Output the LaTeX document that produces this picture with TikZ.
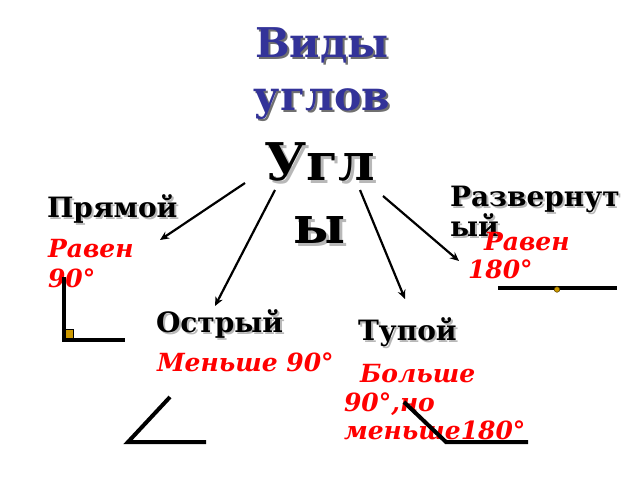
\documentclass[tikz,border=0pt]{standalone}
\usepackage{fontspec}
\setmainfont{DejaVu Serif}
\usetikzlibrary{arrows.meta}
\definecolor{titleblue}{HTML}{333399}
\definecolor{shadowgray}{HTML}{B8B8B8}
\definecolor{titleshadowgray}{HTML}{707070}
\definecolor{gold}{HTML}{CC9900}
\definecolor{angred}{HTML}{FF0000}
\tikzset{
  txt/.style={inner sep=0pt, outer sep=0pt},
  title/.style={txt, anchor=base, font=\bfseries\fontsize{41}{41}\selectfont, text=titleblue},
  titleshadow/.style={txt, anchor=base, font=\bfseries\fontsize{41}{41}\selectfont, text=titleshadowgray},
  big/.style={txt, anchor=base, font=\bfseries\fontsize{52}{52}\selectfont, text=black},
  bigshadow/.style={txt, anchor=base, font=\bfseries\fontsize{52}{52}\selectfont, text=shadowgray},
  kind/.style={txt, anchor=base west, font=\bfseries\fontsize{28}{28}\selectfont, text=black},
  kindshadow/.style={txt, anchor=base west, font=\bfseries\fontsize{28}{28}\selectfont, text=shadowgray},
  note/.style={txt, anchor=base west, font=\bfseries\itshape\fontsize{25}{25}\selectfont, text=angred},
  arr/.style={line width=2.2pt, -{Stealth[length=9pt,width=8pt]}},
  leg/.style={line width=4pt, line cap=butt},
}
\begin{document}
\begin{tikzpicture}[x=1pt,y=-1pt]
\path[use as bounding box, fill=white] (0,0) rectangle (640,480);
% title
\node[titleshadow] (vidysh) at (324,59) {Виды};
\node[title] (vidy) at (322,57) {Виды};
\node[titleshadow] (uglovsh) at (324,112) {углов};
\node[title] (uglov) at (322,110) {углов};
\node[bigshadow] (uglsh) at (323,183) {Угл};
\node[big] (ugl) at (320,180) {Угл};
\node[bigshadow] (ysh) at (323,246) {ы};
\node[big] (y) at (320,243) {ы};
% kinds
\node[kindshadow] (pryamsh) at (49,219) {Прямой};
\node[kind] (pryam) at (47,217) {Прямой};
\node[kindshadow] (razvsh) at (452,208) {Развернут};
\node[kind] (razv) at (450,206) {Развернут};
\node[kindshadow] (razv2sh) at (452,238) {ый};
\node[kind] (razv2) at (450,236) {ый};
\node[kindshadow] (ostrsh) at (158,334) {Острый};
\node[kind] (ostr) at (156,332) {Острый};
\node[kindshadow] (tuposh) at (360,342) {Тупой};
\node[kind] (tupo) at (358,340) {Тупой};
% notes
\node[note] (n1a) at (48,257) {Равен};
\node[note] (n1b) at (48,287) {90°};
\node[note] (n2a) at (484,250) {Равен};
\node[note] (n2b) at (468,278) {180°};
\node[note] (n3) at (157,371) {Меньше 90°};
\node[note] (n4a) at (360,382) {Больше};
\node[note] (n4b) at (344,411) {90°,но};
\node[note] (n4c) at (344,439) {меньше180°};
% arrows
\coordinate (a1s) at (245,183); \coordinate (a1e) at (160,240);
\coordinate (a2s) at (275,190); \coordinate (a2e) at (215,306);
\coordinate (a3s) at (360,190); \coordinate (a3e) at (405,299);
\coordinate (a4s) at (383,196); \coordinate (a4e) at (459,261);
\draw[arr] (a1s) -- (a1e);
\draw[arr] (a2s) -- (a2e);
\draw[arr] (a3s) -- (a3e);
\draw[arr] (a4s) -- (a4e);
% right angle
\fill[gold, draw=black, line width=0.5pt] (63,329) rectangle (73,341);
\draw[leg] (63.5,277) -- (63.5,340) -- (125,340);
% acute
\draw[leg, line join=miter] (170,397) -- (128,442) -- (206,442);
% obtuse
\draw[leg] (404,402) -- (446,442) -- (528,442);
% straight
\draw[leg] (498,288) -- (617,288);
\fill[gold, draw=black!60!gold, line width=0.5pt] (557,289.5) circle (2.8);
\end{tikzpicture}
\end{document}
